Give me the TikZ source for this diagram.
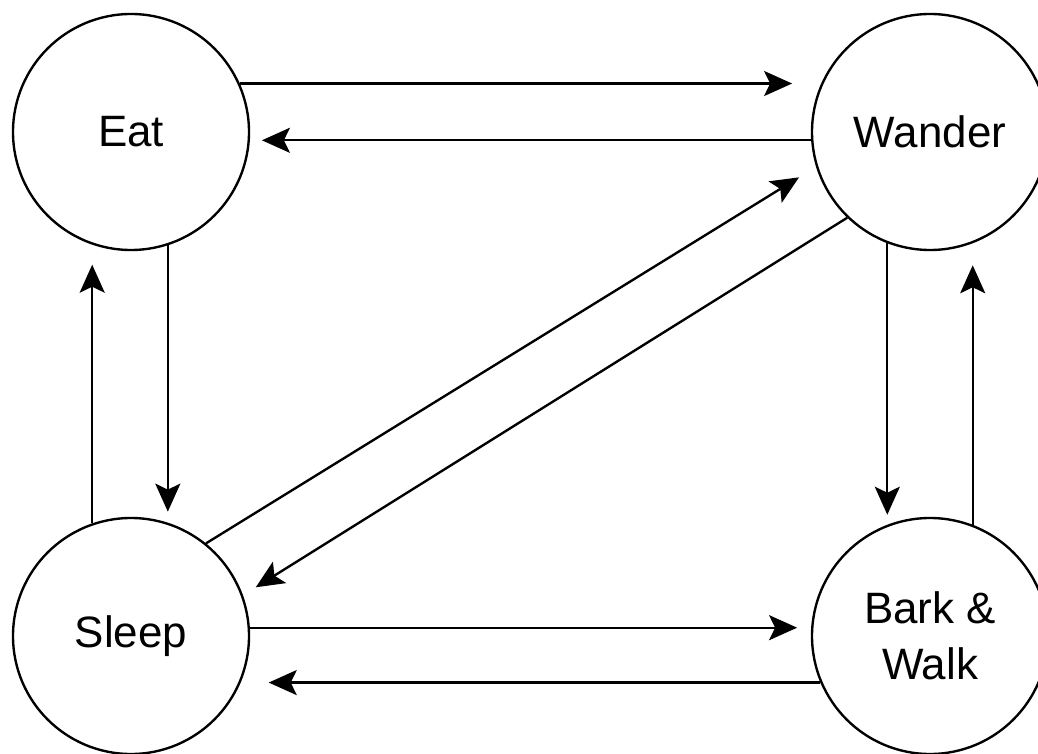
\documentclass[tikz,border=0pt]{standalone}
\usepackage{fontspec}
\setmainfont{Liberation Sans}
\usepackage{tikz}
\usetikzlibrary{arrows.meta}

\begin{document}
\begin{tikzpicture}[
		>={Stealth[length=0.56cm, width=0.5cm, inset=0.12cm]},
		state/.style={circle, draw, line width=1.35pt, minimum size=4.72cm,
				inner sep=0pt, align=center,
				font=\fontsize{25}{32}\selectfont},
		trans/.style={->, line width=1.35pt}
	]
	\useasboundingbox (0,0) rectangle (20.76,15.06);

	% States
	\node[state] (eat) at (2.62,12.42) {Eat};
	\node[state] (wander) at (18.6,12.42) {Wander};
	\node[state] (sleep) at (2.62,2.34) {Sleep};
	\node[state] (bark) at (18.6,2.34) {Bark \&\\Walk};

	% Top and bottom pairs
	\draw[trans, shorten >=0.58cm] (eat.24) -- (wander.156);
	\draw[trans, shorten >=0.24cm] (wander.184) -- (eat.-4);
	\draw[trans, shorten >=0.28cm] (sleep.4) -- (bark.176);
	\draw[trans, shorten >=0.56cm] (bark.203) -- (sleep.-23);

	% Left and right pairs
	\draw[trans, shorten >=0.22cm] (eat.288) -- (sleep.72);
	\draw[trans, shorten >=0.4cm] (sleep.109) -- (eat.251);
	\draw[trans, shorten >=0.2cm] (wander.249) -- (bark.111);
	\draw[trans, shorten >=0.44cm] (bark.69) -- (wander.291);

	% Diagonals
	\draw[trans, shorten >=0.4cm] (sleep.51) -- (wander.197);
	\draw[trans, shorten >=0.3cm] (wander.226) -- (sleep.20);

\end{tikzpicture}
\end{document}
